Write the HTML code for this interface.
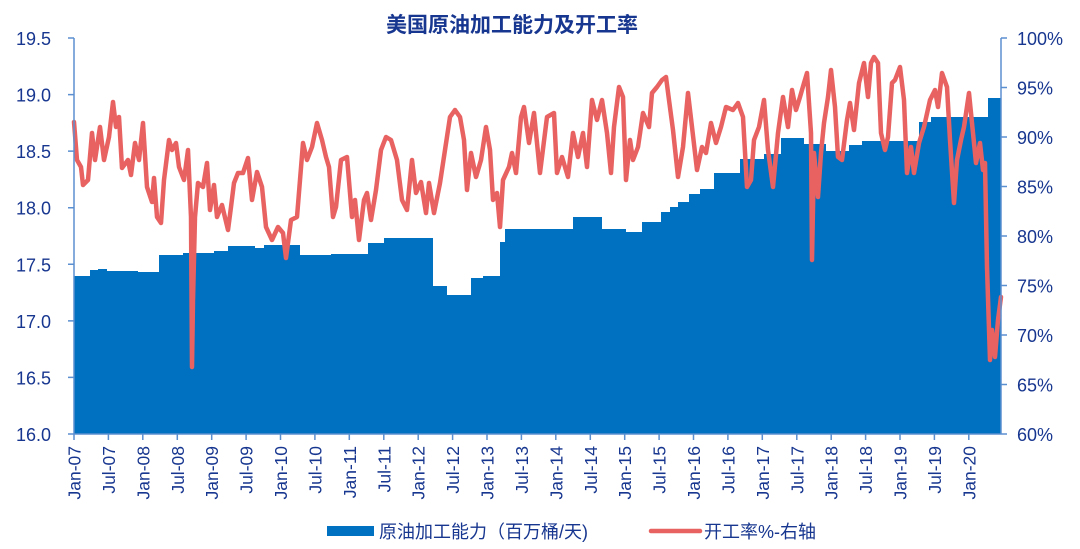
<!DOCTYPE html>
<html><head><meta charset="utf-8"><style>
html,body{margin:0;padding:0;background:#fff;}
svg{display:block;font-family:"Liberation Sans","Noto Sans CJK SC",sans-serif;}
</style></head><body>
<svg width="1080" height="549" viewBox="0 0 1080 549" xmlns="http://www.w3.org/2000/svg">
<text x="512" y="32" text-anchor="middle" font-size="21" font-weight="bold" fill="#17368f" font-family="'Liberation Sans','Noto Sans CJK SC',sans-serif">美国原油加工能力及开工率</text>
<path fill="#0070c0" d="M74,434 L74,276 L90,276 L90,270 L98,270 L98,269 L107,269 L107,271 L138,271 L138,272 L159,272 L159,255 L183,255 L183,253 L214,253 L214,251 L228,251 L228,246 L255,246 L255,248 L264,248 L264,245 L300,245 L300,255 L331,255 L331,254 L368,254 L368,243 L384,243 L384,238 L433,238 L433,286 L447,286 L447,295 L471,295 L471,278 L483,278 L483,276 L500,276 L500,242 L505,242 L505,229 L573,229 L573,217 L602,217 L602,229 L626,229 L626,232 L642,232 L642,222 L661,222 L661,212 L670,212 L670,207 L678,207 L678,202 L689,202 L689,194 L700,194 L700,189 L714,189 L714,173 L740,173 L740,159 L764,159 L764,154 L781,154 L781,138 L804,138 L804,144 L826,144 L826,151 L849,151 L849,145 L862,145 L862,141 L919,141 L919,122 L931,122 L931,117 L988,117 L988,98 L1001,98 L1001,434 Z"/>
<polyline fill="none" stroke="#e86262" stroke-width="4.5" stroke-linejoin="round" stroke-linecap="round" points="74,122 77,160 81,167 83,185 88,180 92,133 95,160 100,127 104,160 109,137 113,102 116,127 119,117 122,168 128,160 131,175 135,143 139,160 143,123 147,187 152,202 154,178 157,217 161,223 164,180 169,140 172,150 176,143 179,167 184,180 188,150 191,217 192,367 193,300 195,217 198,183 203,187 207,163 210,210 214,185 217,217 222,205 228,230 231,207 234,183 238,173 243,173 248,158 252,200 257,172 262,187 266,227 272,240 278,227 283,233 286,258 291,220 297,217 300,180 303,143 307,160 312,147 317,123 322,140 326,157 329,167 333,217 336,207 341,160 347,157 352,217 355,200 359,240 364,200 367,193 371,220 376,190 381,150 386,137 391,140 397,160 402,200 407,210 412,160 416,193 421,182 426,213 429,183 434,213 440,183 445,150 450,117 455,110 460,117 464,140 467,190 471,153 476,177 481,160 486,127 490,150 493,200 497,193 500,227 503,180 509,167 512,153 516,173 521,117 524,107 529,143 534,113 540,173 547,117 554,113 557,173 562,157 568,177 573,133 578,157 583,133 587,167 592,100 597,120 602,100 607,133 611,173 614,127 619,87 623,97 626,180 630,140 633,160 638,147 643,113 649,127 652,93 657,87 662,80 666,77 669,100 673,130 678,177 683,147 688,93 692,127 697,170 702,147 706,153 711,123 716,143 721,127 726,107 733,110 738,103 743,117 747,187 751,180 754,140 759,127 764,100 768,150 773,187 778,133 783,97 788,127 792,90 796,110 800,97 804,83 807,73 811,133 812,260 814,153 818,197 821,153 824,123 828,97 831,70 835,107 838,157 842,160 847,120 850,103 854,130 859,83 864,63 868,97 871,63 874,57 878,63 881,133 885,150 888,137 892,83 895,80 900,67 904,100 907,173 911,147 914,173 919,143 924,127 930,100 935,90 938,107 942,73 947,87 950,140 954,203 957,160 961,140 964,127 969,93 973,133 976,163 980,143 983,170 985,163 987,267 990,360 992,330 995,357 998,320 1001,297"/>
<g stroke="#5b8fd0" stroke-width="1.5" fill="none">
<line x1="74" y1="38" x2="74" y2="434"/>
<line x1="1001" y1="38" x2="1001" y2="434"/>
<line x1="74" y1="434" x2="1001" y2="434"/>
<path d="M68,38H74M68,94.6H74M68,151.1H74M68,207.7H74M68,264.3H74M68,320.9H74M68,377.4H74M68,434H74"/>
<path d="M1001,38H1007M1001,87.5H1007M1001,137H1007M1001,186.5H1007M1001,236H1007M1001,285.5H1007M1001,335H1007M1001,384.5H1007M1001,434H1007"/>
<path d="M74,434v6M108.4,434v6M142.8,434v6M177.3,434v6M211.7,434v6M246.1,434v6M280.5,434v6M314.9,434v6M349.3,434v6M383.8,434v6M418.2,434v6M452.6,434v6M487,434v6M521.4,434v6M555.8,434v6M590.3,434v6M624.7,434v6M659.1,434v6M693.5,434v6M727.9,434v6M762.3,434v6M796.8,434v6M831.2,434v6M865.6,434v6M900,434v6M934.4,434v6M968.8,434v6"/>
</g>
<g font-size="18" fill="#17368f" text-anchor="end">
<text x="51" y="45">19.5</text><text x="51" y="101.6">19.0</text><text x="51" y="158.1">18.5</text><text x="51" y="214.7">18.0</text><text x="51" y="271.3">17.5</text><text x="51" y="327.9">17.0</text><text x="51" y="384.4">16.5</text><text x="51" y="441">16.0</text>
</g>
<g font-size="18" fill="#17368f" text-anchor="start">
<text x="1017" y="45">100%</text><text x="1017" y="94.5">95%</text><text x="1017" y="144">90%</text><text x="1017" y="193.5">85%</text><text x="1017" y="243">80%</text><text x="1017" y="292.5">75%</text><text x="1017" y="342">70%</text><text x="1017" y="391.5">65%</text><text x="1017" y="441">60%</text>
</g>
<g font-size="17.5" fill="#17368f" text-anchor="end">
<text transform="translate(80.5,446) rotate(-90)">Jan-07</text>
<text transform="translate(114.9,446) rotate(-90)">Jul-07</text>
<text transform="translate(149.3,446) rotate(-90)">Jan-08</text>
<text transform="translate(183.8,446) rotate(-90)">Jul-08</text>
<text transform="translate(218.2,446) rotate(-90)">Jan-09</text>
<text transform="translate(252.6,446) rotate(-90)">Jul-09</text>
<text transform="translate(287,446) rotate(-90)">Jan-10</text>
<text transform="translate(321.4,446) rotate(-90)">Jul-10</text>
<text transform="translate(355.8,446) rotate(-90)">Jan-11</text>
<text transform="translate(390.3,446) rotate(-90)">Jul-11</text>
<text transform="translate(424.7,446) rotate(-90)">Jan-12</text>
<text transform="translate(459.1,446) rotate(-90)">Jul-12</text>
<text transform="translate(493.5,446) rotate(-90)">Jan-13</text>
<text transform="translate(527.9,446) rotate(-90)">Jul-13</text>
<text transform="translate(562.3,446) rotate(-90)">Jan-14</text>
<text transform="translate(596.8,446) rotate(-90)">Jul-14</text>
<text transform="translate(631.2,446) rotate(-90)">Jan-15</text>
<text transform="translate(665.6,446) rotate(-90)">Jul-15</text>
<text transform="translate(700,446) rotate(-90)">Jan-16</text>
<text transform="translate(734.4,446) rotate(-90)">Jul-16</text>
<text transform="translate(768.8,446) rotate(-90)">Jan-17</text>
<text transform="translate(803.3,446) rotate(-90)">Jul-17</text>
<text transform="translate(837.7,446) rotate(-90)">Jan-18</text>
<text transform="translate(872.1,446) rotate(-90)">Jul-18</text>
<text transform="translate(906.5,446) rotate(-90)">Jan-19</text>
<text transform="translate(940.9,446) rotate(-90)">Jul-19</text>
<text transform="translate(975.3,446) rotate(-90)">Jan-20</text>
</g>
<rect x="327" y="526" width="47" height="10" fill="#0070c0"/>
<text x="379" y="538" font-size="18" fill="#17368f">原油加工能力（百万桶/天)</text>
<line x1="651" y1="531" x2="700" y2="531" stroke="#e86262" stroke-width="4.5" stroke-linecap="round"/>
<text x="704" y="538" font-size="18" fill="#17368f">开工率%-右轴</text>
</svg>
</body></html>
